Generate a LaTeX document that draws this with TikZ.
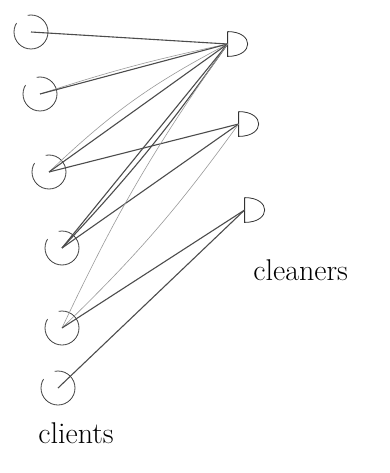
\documentclass[tikz,border=0pt]{standalone}
\usetikzlibrary{calc}
\begin{document}
\begin{tikzpicture}[x=1pt, y=-1pt, thick,
	client/.style={circle, draw=black!75, minimum size=34pt, inner sep=0pt, dash pattern=on 30pt off 14pt on 200pt},
	cleaner/.style={minimum width=20pt, minimum height=24pt, inner sep=0pt},
	dark/.style={draw=black!70, line width=1.1pt},
	light/.style={draw=black!40, line width=0.6pt},
	word/.style={font=\fontsize{30}{32}\selectfont, inner sep=0pt, anchor=base west}]
	\useasboundingbox (0,0) rectangle (390,473);

	% clients
	\node[client] (c1) at (31, 32) {};
	\node[client] (c2) at (40, 94) {};
	\node[client] (c3) at (49, 172) {};
	\node[client] (c4) at (62, 248) {};
	\node[client] (c5) at (62, 328) {};
	\node[client] (c6) at (58, 388) {};
	\node[word] (clients) at (38, 443) {clients};

	% cleaners
	\node[cleaner] (k1) at (238, 44) {};
	\node[cleaner] (k2) at (249, 124) {};
	\node[cleaner] (k3) at (255, 210) {};
	\foreach \k in {k1, k2, k3}
		\draw[black!80] (\k.north west) -- (\k.south west) .. controls ($(\k.south east)+(6,0)$) and ($(\k.north east)+(6,0)$) .. (\k.north west);
	\node[word] (cleaners) at (253, 280) {cleaners};

	% edges
	\draw[dark] (c1.center) -- (k1.west);
	\draw[light] (c2.center) to[bend left=3] (k1.west);
	\draw[dark] (c2.center) -- (k1.west);
	\draw[light] (c3.center) to[bend left=8] (k1.west);
	\draw[dark] (c3.center) -- (k1.west);
	\draw[dark] (c3.center) -- (k2.west);
	\draw[dark] (c4.center) -- (k1.west);
	\draw[dark] (c4.center) to[bend right=4] (k1.west);
	\draw[dark] (c4.center) -- (k2.west);
	\draw[light] (c5.center) to[bend left=5] (k1.west);
	\draw[light] (c5.center) to[bend right=5] (k2.west);
	\draw[dark] (c5.center) -- (k3.west);
	\draw[dark] (c6.center) -- (k3.west);
\end{tikzpicture}
\end{document}
